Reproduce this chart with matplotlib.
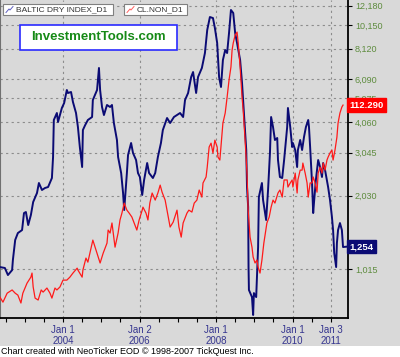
import matplotlib
matplotlib.use("Agg")
import matplotlib.pyplot as plt
import matplotlib.transforms as mtransforms
from matplotlib.lines import Line2D
from matplotlib.patches import Rectangle

plt.rcParams['font.family'] = ['Liberation Sans', 'DejaVu Sans']

# Baltic Dry Index (left series, log scale) - decimal year / index value
bdi_year = [2002.35, 2002.48, 2002.56, 2002.67, 2002.69, 2002.75, 2002.82, 2002.93, 2002.98, 2003.03,
            2003.09, 2003.16, 2003.22, 2003.32, 2003.37, 2003.45, 2003.53, 2003.61, 2003.71, 2003.74,
            2003.76, 2003.84, 2003.87, 2003.97, 2004.03, 2004.10, 2004.13, 2004.21, 2004.26, 2004.34,
            2004.39, 2004.44, 2004.50, 2004.52, 2004.58, 2004.65, 2004.76, 2004.78, 2004.89, 2004.94,
            2004.97, 2005.02, 2005.07, 2005.15, 2005.23, 2005.28, 2005.33, 2005.41, 2005.44, 2005.52,
            2005.57, 2005.60, 2005.67, 2005.70, 2005.78, 2005.83, 2005.91, 2005.96, 2006.01, 2006.07,
            2006.12, 2006.20, 2006.25, 2006.33, 2006.35, 2006.41, 2006.48, 2006.56, 2006.61, 2006.72,
            2006.80, 2006.90, 2006.98, 2007.06, 2007.14, 2007.19, 2007.27, 2007.35, 2007.40, 2007.48,
            2007.53, 2007.63, 2007.71, 2007.77, 2007.84, 2007.92, 2007.97, 2008.03, 2008.08, 2008.13,
            2008.18, 2008.24, 2008.29, 2008.34, 2008.39, 2008.45, 2008.50, 2008.55, 2008.63, 2008.68,
            2008.73, 2008.79, 2008.81, 2008.84, 2008.85, 2008.86, 2008.94, 2008.97, 2008.99, 2009.05,
            2009.07, 2009.10, 2009.12, 2009.20, 2009.23, 2009.31, 2009.36, 2009.41, 2009.44, 2009.49,
            2009.54, 2009.60, 2009.62, 2009.67, 2009.73, 2009.78, 2009.86, 2009.88, 2009.94, 2009.99,
            2010.01, 2010.07, 2010.12, 2010.14, 2010.20, 2010.25, 2010.30, 2010.35, 2010.41, 2010.43,
            2010.46, 2010.51, 2010.54, 2010.56, 2010.61, 2010.67, 2010.72, 2010.77, 2010.80, 2010.85,
            2010.93, 2010.98, 2011.03, 2011.06, 2011.09, 2011.14, 2011.16, 2011.19, 2011.24, 2011.29,
            2011.32, 2011.43]
bdi_value = [1034, 1025, 959, 1005, 1105, 1335, 1425, 1466, 1721, 1738,
             1537, 1689, 1910, 2079, 2285, 2139, 2180, 2200, 2395, 2920,
             4140, 4422, 4062, 4636, 4860, 5494, 5340, 5391, 4906, 4422,
             3875, 3208, 2657, 3767, 3948, 4140, 4258, 4999, 5494, 6762,
             5494, 4680, 4338, 4770, 4680, 4770, 4024, 3428, 2920, 2510,
             2079, 1771, 2510, 2975, 3332, 3032, 2838, 2510, 2418, 2040,
             2350, 2759, 2510, 2418, 2395, 2510, 2920, 3332, 3767, 4218,
             4024, 4258, 4338, 4422, 4258, 4999, 5340, 6210, 6509, 5340,
             6210, 6762, 7787, 9676, 10935, 10830, 9861, 8558, 6210, 5651,
             7291, 8012, 7787, 9404, 11685, 11360, 9404, 8558, 7291, 5867,
             4422, 3119, 2200, 1822, 1034, 833, 779, 658, 809, 779,
             941, 1249, 2002, 2285, 1946, 1612, 2139, 3032, 4258, 3875,
             3428, 3493, 2838, 2418, 2395, 2838, 3875, 4636, 3875, 3208,
             3332, 3119, 2657, 3119, 3428, 3119, 3526, 3875, 4140, 3875,
             3208, 2285, 1721, 1892, 2350, 2838, 2657, 2418, 2759, 2583,
             2200, 1946, 1658, 1466, 1180, 1034, 1297, 1466, 1566, 1466,
             1249, 1254]

# Crude oil CL (right series, linear hidden scale)
cl_year = [2002.35, 2002.43, 2002.54, 2002.67, 2002.75, 2002.82, 2002.90, 2002.95, 2003.06, 2003.16,
           2003.19, 2003.22, 2003.27, 2003.35, 2003.43, 2003.48, 2003.58, 2003.66, 2003.71, 2003.79,
           2003.84, 2003.92, 2004.00, 2004.10, 2004.18, 2004.26, 2004.37, 2004.39, 2004.50, 2004.52,
           2004.60, 2004.65, 2004.71, 2004.78, 2004.89, 2004.97, 2005.05, 2005.15, 2005.18, 2005.23,
           2005.28, 2005.36, 2005.44, 2005.49, 2005.54, 2005.60, 2005.67, 2005.73, 2005.80, 2005.86,
           2005.93, 2005.99, 2006.07, 2006.09, 2006.17, 2006.22, 2006.27, 2006.33, 2006.41, 2006.48,
           2006.54, 2006.59, 2006.67, 2006.75, 2006.80, 2006.88, 2006.98, 2007.03, 2007.09, 2007.14,
           2007.24, 2007.29, 2007.37, 2007.43, 2007.50, 2007.56, 2007.63, 2007.66, 2007.74, 2007.77,
           2007.82, 2007.87, 2007.92, 2007.97, 2008.03, 2008.05, 2008.10, 2008.16, 2008.18, 2008.24,
           2008.29, 2008.34, 2008.39, 2008.42, 2008.45, 2008.50, 2008.55, 2008.58, 2008.63, 2008.68,
           2008.71, 2008.76, 2008.81, 2008.84, 2008.89, 2008.94, 2008.97, 2009.02, 2009.07, 2009.10,
           2009.15, 2009.20, 2009.25, 2009.33, 2009.39, 2009.44, 2009.49, 2009.54, 2009.62, 2009.67,
           2009.73, 2009.78, 2009.86, 2009.88, 2009.94, 2009.99, 2010.01, 2010.07, 2010.12, 2010.14,
           2010.20, 2010.25, 2010.27, 2010.33, 2010.38, 2010.41, 2010.46, 2010.51, 2010.54, 2010.59,
           2010.64, 2010.67, 2010.72, 2010.77, 2010.80, 2010.85, 2010.90, 2010.93, 2010.98, 2011.03,
           2011.06, 2011.11, 2011.16, 2011.19, 2011.24, 2011.29, 2011.32]
cl_value = [22.6, 20.2, 24.4, 25.9, 24.4, 23.5, 19.8, 24.4, 29.1, 31.9,
            33.8, 27.3, 22.1, 21.2, 25.9, 24.9, 26.8, 24.4, 22.1, 26.8,
            25.9, 27.3, 30.5, 30.5, 31.9, 33.8, 36.1, 35.2, 31.9, 35.2,
            40.8, 38.9, 43.6, 49.2, 43.1, 38.5, 43.1, 47.8, 53.9, 52.5,
            57.2, 45.9, 52.5, 58.6, 61.8, 66.5, 63.2, 61.8, 60.0, 57.2,
            53.9, 58.6, 63.2, 64.6, 61.8, 58.6, 66.5, 71.2, 67.9, 71.2,
            74.9, 71.6, 67.9, 60.0, 55.3, 57.6, 63.2, 55.3, 50.6, 57.2,
            61.8, 63.2, 62.3, 66.5, 67.9, 72.6, 69.3, 75.9, 78.7, 83.3,
            92.7, 94.5, 89.9, 95.9, 92.7, 88.0, 86.6, 99.2, 103.9, 108.6,
            116.0, 124.0, 130.1, 138.0, 141.3, 145.0, 146.4, 141.3, 130.1, 116.0,
            110.0, 95.9, 80.5, 63.2, 50.6, 45.9, 41.3, 38.5, 39.9, 36.6,
            33.8, 39.9, 47.8, 57.2, 60.0, 64.6, 67.9, 66.5, 71.2, 72.6,
            69.3, 77.3, 77.3, 74.0, 75.9, 77.3, 74.0, 80.5, 71.2, 77.3,
            81.9, 81.9, 85.2, 80.5, 75.9, 69.3, 75.9, 75.9, 78.7, 75.9,
            71.6, 80.5, 83.3, 80.5, 85.2, 81.9, 86.6, 88.0, 89.9, 91.3,
            86.6, 91.3, 97.3, 103.9, 108.6, 111.4, 112.29]

y_ticks = [1015, 2030, 3045, 4060, 5075, 6090, 8120, 10150, 12180]
x_ticks = [2004.0, 2006.0, 2008.0, 2010.0, 2011.0]
x_labels = ['Jan 1\n2004', 'Jan 2\n2006', 'Jan 1\n2008', 'Jan 1\n2010', 'Jan 3\n2011']
x_minor = [2002.5, 2003.0, 2003.5, 2004.5, 2005.0, 2005.5, 2006.5, 2007.0, 2007.5,
           2008.5, 2009.0, 2009.5, 2010.5, 2011.0]

BG = '#d9d9d9'
NAVY = '#0b0b74'
RED = '#ff1a1a'

fig = plt.figure(figsize=(4.0, 3.57), dpi=100, facecolor=BG)
W, H = 400.0, 357.0
ax = fig.add_axes([0.0, 1 - 318 / H, 348 / W, 318 / H])
ax.set_facecolor(BG)
ax2 = ax.twinx()

ax.set_yscale('log')
ax.set_ylim(639.5, 12840)
ax.set_xlim(2002.353, 2011.45)

ax.yaxis.tick_right()
ax.set_yticks(y_ticks)
ax.set_yticklabels([f'{v:,}' for v in y_ticks])
ax.yaxis.set_minor_locator(matplotlib.ticker.NullLocator())
ax.set_xticks(x_ticks)
ax.set_xticklabels(x_labels, linespacing=1.1)
ax.set_xticks(x_minor, minor=True)
ax.tick_params(axis='y', which='major', direction='out', length=3, width=0.8,
               colors='black', labelcolor='#5e8c3e', labelsize=6.5, pad=2,
               left=False, labelleft=False, right=True, labelright=True)
ax.tick_params(axis='x', which='both', direction='out', length=3, width=0.8,
               colors='black', labelcolor='#35358f', labelsize=7, pad=2)

ax.grid(True, which='major', color='#8c8c8c', linestyle=(0, (2, 3)), linewidth=0.8)
ax.spines['top'].set_visible(False)
ax.spines['left'].set_color('#707070')
ax.spines['right'].set_linewidth(1.3)
ax.spines['bottom'].set_linewidth(1.3)

ax.plot(bdi_year, bdi_value, color=NAVY, linewidth=1.4, zorder=3)

ax2.set_ylim(12.8, 161.4)
ax2.set_yticks([])
ax2.tick_params(axis='y', which='both', left=False, right=False, labelleft=False, labelright=False)
for s in ax2.spines.values():
    s.set_visible(False)
ax2.plot(cl_year, cl_value, color=RED, linewidth=0.9, zorder=3)

# value tags on the right edge
tr1 = mtransforms.blended_transform_factory(ax.transAxes, ax.transData)
ax.text(1.004, bdi_value[-1], f'{bdi_value[-1]:,}', transform=tr1, ha='left', va='center',
        color='white', fontsize=6.8, fontweight='bold', clip_on=False, zorder=10,
        bbox=dict(boxstyle='square,pad=0.25', facecolor=NAVY, edgecolor=NAVY))
tr2 = mtransforms.blended_transform_factory(ax2.transAxes, ax2.transData)
ax2.text(1.004, cl_value[-1], f'{cl_value[-1]:.3f}', transform=tr2, ha='left', va='center',
         color='white', fontsize=6.8, fontweight='bold', clip_on=False, zorder=10,
         bbox=dict(boxstyle='square,pad=0.25', facecolor='#ff0000', edgecolor='#ff0000'))

# legend boxes
def legend_box(x0, x1, label, col):
    fig.add_artist(Rectangle((x0 / W, 1 - 15 / H), (x1 - x0) / W, 11 / H, transform=fig.transFigure,
                             facecolor='white', edgecolor='#808080', linewidth=0.8, zorder=20))
    fig.add_artist(Line2D([(x0 + 3) / W, (x0 + 6) / W, (x0 + 7) / W, (x0 + 10) / W],
                          [1 - 12.5 / H, 1 - 9 / H, 1 - 10 / H, 1 - 6.5 / H],
                          transform=fig.transFigure, color=col, linewidth=0.7, zorder=21))
    fig.text((x0 + 13) / W, 1 - 9.5 / H, label, ha='left', va='center', fontsize=6,
             color='#333333', zorder=21)

legend_box(3, 113, 'BALTIC DRY INDEX_D1', '#6060c0')
legend_box(124, 187, 'CL.NON_D1', '#ff6060')

# site banner
fig.add_artist(Rectangle((20 / W, 1 - 50 / H), 157 / W, 25 / H, transform=fig.transFigure,
                         facecolor='white', edgecolor='#2a2aff', linewidth=1.2, zorder=20))
fig.text(98.5 / W, 1 - 37.5 / H, 'InvestmentTools.com', ha='center', va='center',
         fontsize=9.5, fontweight='bold', color='#168a16', zorder=21)

# footer
fig.add_artist(Rectangle((0, 0), 1, 11 / H, transform=fig.transFigure,
                         facecolor='white', edgecolor='none', zorder=0))
fig.text(1 / W, 5.5 / H, 'Chart created with NeoTicker EOD \u00a9 1998-2007 TickQuest Inc.',
         ha='left', va='center', fontsize=6.5, color='black')

fig.savefig('out.png', dpi=100, facecolor=BG)
